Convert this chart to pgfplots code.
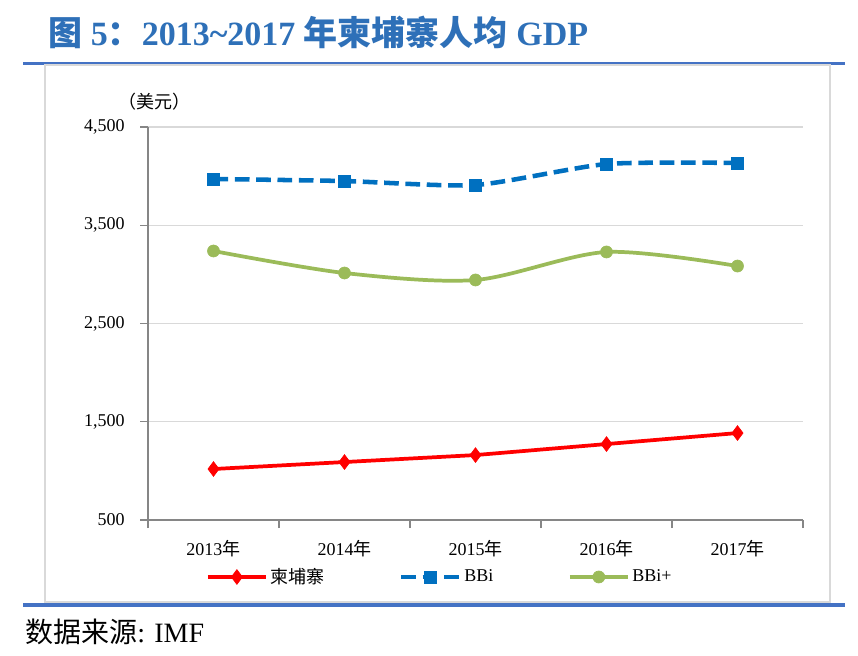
\documentclass[border=0pt]{standalone}
\usepackage{pgfplots}
\pgfplotsset{compat=1.18}
\usepackage{fontspec}
\setmainfont{Liberation Serif}
\newfontfamily\cjk{Noto Sans CJK SC}
\definecolor{titleblue}{RGB}{46,112,184}
\definecolor{ruleblue}{RGB}{68,114,196}
\definecolor{boxgray}{RGB}{217,217,217}
\definecolor{axgray}{RGB}{134,134,134}
\definecolor{gridgray}{RGB}{217,217,217}
\definecolor{cred}{RGB}{255,0,0}
\definecolor{cblue}{RGB}{0,112,192}
\definecolor{cgreen}{RGB}{155,187,89}
\begin{document}
\begin{tikzpicture}
\useasboundingbox (0,0) rectangle (643.5pt,-492pt);
\fill[white] (0,0) rectangle (643.5pt,-492pt);
\node[anchor=base west, inner sep=0, text=titleblue, font=\fontsize{25.5}{30}\selectfont\bfseries] at (36pt,-34.5pt) {{\cjk\bfseries 图} 5{\cjk\bfseries ：}2013\textasciitilde 2017 {\cjk\bfseries 年柬埔寨人均} GDP};
\draw[ruleblue, line width=2.25pt] (17.25pt,-47.6pt) -- (633.75pt,-47.6pt);
\draw[boxgray, line width=1.5pt] (33.75pt,-48.75pt) rectangle (622.5pt,-451.5pt);
\draw[ruleblue, line width=2.6pt] (17.25pt,-453.75pt) -- (633.75pt,-453.75pt);
\node[anchor=base west, inner sep=0, font=\fontsize{21}{25}\selectfont] at (18.75pt,-481.5pt) {{\cjk 数据来源}: IMF};
\node[anchor=base west, inner sep=0, font=\fontsize{13.5}{16}\selectfont] at (88.5pt,-81.75pt) {\cjk （美元）};
\begin{axis}[at={(111pt,-390pt)}, anchor=south west, scale only axis,
  width=491.25pt, height=294.75pt,
  xmin=-0.5, xmax=4.5, ymin=500, ymax=4500,
  axis x line*=bottom, axis y line*=left,
  axis line style={axgray, line width=0.8pt, -},
  tick align=outside,
  xtick={0,1,2,3,4},
  xticklabels={{2013{\cjk 年}},{2014{\cjk 年}},{2015{\cjk 年}},{2016{\cjk 年}},{2017{\cjk 年}}},
  major x tick style={draw=none},
  minor xtick={-0.5,0.5,1.5,2.5,3.5,4.5},
  minor tick length=6pt, major tick length=6pt,
  minor x tick style={axgray, line width=0.8pt},
  major y tick style={axgray, line width=0.8pt},
  ytick={500,1500,2500,3500,4500},
  yticklabels={500,{1,500},{2,500},{3,500},{4,500}},
  ymajorgrids, y grid style={gridgray, line width=0.8pt},
  tick label style={font=\fontsize{13.5}{16}\selectfont, text=black},
  xticklabel style={yshift=-6pt},
  yticklabel style={xshift=-8pt},
  /pgf/number format/assume math mode=true,
  clip=false,
  legend style={draw=none, fill=none, at={(0.446,-0.145)}, anchor=center,
    legend columns=3, font=\fontsize{13.5}{16}\selectfont,
    /tikz/every even column/.append style={column sep=54pt}},
  legend image code/.code={\draw[mark repeat=2,mark phase=2,#1] plot coordinates {(0pt,0pt) (21.75pt,0pt) (43.5pt,0pt)};},
]
\addplot[cred, line width=2.8pt, mark=diamond*, mark size=5.5pt, mark options={solid, line width=0.5pt}]
  coordinates {(0,1019)(1,1090)(2,1161)(3,1273)(4,1385)};
\addlegendentry{\cjk 柬埔寨}
\addplot[cblue, line width=3.4pt, dash pattern=on 11pt off 5pt, smooth, tension=0.4, mark=square*, mark size=4.5pt, mark options={solid, line width=0.5pt}]
  coordinates {(0,3971)(1,3950)(2,3910)(3,4123)(4,4134)};
\addlegendentry{BBi}
\addplot[cgreen, line width=2.8pt, smooth, tension=0.5, mark=*, mark size=4.5pt, mark options={solid, line width=0.5pt}]
  coordinates {(0,3238)(1,3014)(2,2943)(3,3228)(4,3085)};
\addlegendentry{BBi+}
\end{axis}
\end{tikzpicture}
\end{document}
